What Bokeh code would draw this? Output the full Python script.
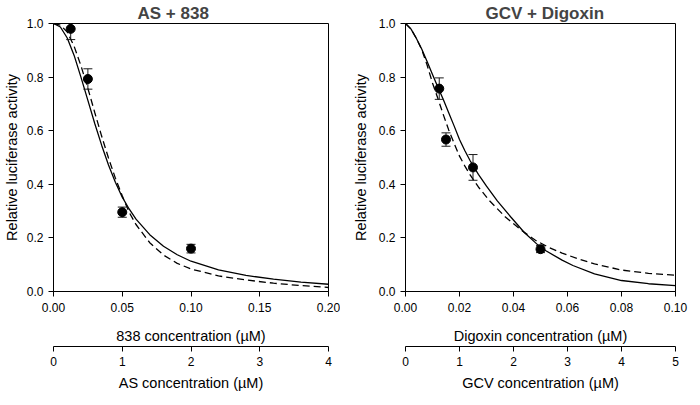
from bokeh.plotting import figure
from bokeh.models import Range1d, LinearAxis, FixedTicker, NumeralTickFormatter
from bokeh.layouts import row
from bokeh.embed import file_html
from bokeh.resources import INLINE

FONT = "Liberation Sans"

# ---------------- Panel A: AS + 838 ----------------
a_title = "AS + 838"
a_x_label = "838 concentration (µM)"
a_x2_label = "AS concentration (µM)"
a_x_ticks = [0.0, 0.05, 0.10, 0.15, 0.20]
a_x2_ticks = [0, 1, 2, 3, 4]
a_pts_x = [0.0125, 0.025, 0.05, 0.10]
a_pts_y = [0.980, 0.793, 0.296, 0.160]
a_pts_err = [0.040, 0.038, 0.019, 0.016]
a_solid_x = [0.000, 0.005, 0.010, 0.015, 0.020, 0.025, 0.030, 0.035, 0.040, 0.045, 0.050,
             0.055, 0.060, 0.070, 0.080, 0.090, 0.100, 0.120, 0.140, 0.160, 0.180, 0.200]
a_solid_y = [1.000, 0.987, 0.946, 0.881, 0.799, 0.713, 0.627, 0.546, 0.472, 0.408, 0.352,
             0.308, 0.270, 0.212, 0.169, 0.137, 0.113, 0.081, 0.060, 0.046, 0.035, 0.027]
a_dash_x = [0.000, 0.005, 0.010, 0.015, 0.020, 0.025, 0.030, 0.035, 0.040, 0.045, 0.050,
            0.055, 0.060, 0.070, 0.080, 0.090, 0.100, 0.120, 0.140, 0.160, 0.180, 0.200]
a_dash_y = [1.000, 0.994, 0.968, 0.915, 0.842, 0.758, 0.668, 0.580, 0.498, 0.423, 0.357,
            0.296, 0.250, 0.182, 0.136, 0.105, 0.084, 0.058, 0.043, 0.031, 0.022, 0.015]

# ---------------- Panel B: GCV + Digoxin ----------------
b_title = "GCV + Digoxin"
b_x_label = "Digoxin concentration (µM)"
b_x2_label = "GCV concentration (µM)"
b_x_ticks = [0.0, 0.02, 0.04, 0.06, 0.08, 0.10]
b_x2_ticks = [0, 1, 2, 3, 4, 5]
b_pts_x = [0.0125, 0.015, 0.025, 0.05]
b_pts_y = [0.757, 0.567, 0.463, 0.158]
b_pts_err = [0.040, 0.025, 0.048, 0.013]
b_solid_x = [0.000, 0.002, 0.004, 0.006, 0.008, 0.010, 0.012, 0.014, 0.016, 0.018, 0.020,
             0.022, 0.024, 0.027, 0.030, 0.034, 0.039, 0.044, 0.049, 0.052, 0.058, 0.062,
             0.070, 0.080, 0.090, 0.100]
b_solid_y = [1.000, 0.980, 0.945, 0.905, 0.858, 0.810, 0.762, 0.716, 0.667, 0.618, 0.567,
             0.525, 0.487, 0.437, 0.393, 0.338, 0.278, 0.220, 0.174, 0.152, 0.117, 0.097,
             0.066, 0.041, 0.029, 0.022]
b_dash_x = [0.000, 0.002, 0.004, 0.006, 0.008, 0.010, 0.012, 0.014, 0.016, 0.018, 0.020,
            0.022, 0.024, 0.027, 0.031, 0.037, 0.043, 0.048, 0.053, 0.058, 0.064, 0.070,
            0.080, 0.090, 0.100]
b_dash_y = [1.000, 0.980, 0.945, 0.903, 0.845, 0.778, 0.720, 0.660, 0.603, 0.553, 0.505,
            0.468, 0.434, 0.390, 0.340, 0.278, 0.228, 0.192, 0.165, 0.143, 0.122, 0.103,
            0.080, 0.068, 0.061]

y_ticks = [0.0, 0.2, 0.4, 0.6, 0.8, 1.0]
y_label = "Relative luciferase activity"


def style_axis(ax, fmt, ticks, label, label_standoff, tick_label_standoff):
    ax.ticker = FixedTicker(ticks=ticks)
    ax.formatter = NumeralTickFormatter(format=fmt)
    ax.axis_label = label
    ax.axis_label_text_font = FONT
    ax.axis_label_text_font_style = "normal"
    ax.axis_label_text_font_size = "14.5px"
    ax.axis_label_text_color = "black"
    ax.axis_label_standoff = label_standoff
    ax.major_label_text_font = FONT
    ax.major_label_text_font_size = "12px"
    ax.major_label_text_color = "black"
    ax.major_label_standoff = tick_label_standoff
    ax.axis_line_color = "black"
    ax.major_tick_line_color = "black"
    ax.major_tick_out = 5
    ax.major_tick_in = 0
    ax.minor_tick_line_color = None


def make_panel(title, xmax, x2max, x_ticks, x2_ticks, xfmt, xlabel, x2label,
               pts_x, pts_y, pts_err, sx, sy, dx, dy,
               left, right, fw, title_offset, ylab_standoff):
    p = figure(x_range=Range1d(0, xmax), y_range=Range1d(0, 1.0),
               frame_width=fw, frame_height=268,
               min_border_left=left, min_border_right=right,
               min_border_top=20, min_border_bottom=0,
               output_backend="svg", toolbar_location=None,
               background_fill_color="white", border_fill_color="white")
    p.title.text = title
    p.title.text_font = FONT
    p.title.text_font_style = "bold"
    p.title.text_font_size = "17px"
    p.title.align = "left"
    p.title.offset = title_offset
    p.title.standoff = 2
    p.xgrid.visible = False
    p.ygrid.visible = False
    p.outline_line_color = "black"
    p.outline_line_width = 1
    p.outline_line_alpha = 1.0

    style_axis(p.xaxis[0], xfmt, x_ticks, xlabel, 13, 6)
    style_axis(p.yaxis[0], "0.0", y_ticks, y_label, ylab_standoff, 5)

    p.extra_x_ranges = {"second": Range1d(0, x2max)}
    ax2 = LinearAxis(x_range_name="second")
    style_axis(ax2, "0", x2_ticks, x2label, 6, 5)
    p.add_layout(ax2, "below")

    p.line(sx, sy, line_color="black", line_width=1.3)
    p.line(dx, dy, line_color="black", line_width=1.3, line_dash="7 4")

    upper = [y + e for y, e in zip(pts_y, pts_err)]
    lower = [y - e for y, e in zip(pts_y, pts_err)]
    p.segment(x0=pts_x, y0=lower, x1=pts_x, y1=upper, line_color="#1a1a1a", line_width=1)
    p.scatter(pts_x, upper, marker="dash", size=9, line_color="#1a1a1a", line_width=1)
    p.scatter(pts_x, lower, marker="dash", size=9, line_color="#1a1a1a", line_width=1)
    p.scatter(pts_x, pts_y, marker="circle", size=9, fill_color="black", line_color="black")
    return p


p1 = make_panel(a_title, 0.2, 4, a_x_ticks, a_x2_ticks, "0.00", a_x_label, a_x2_label,
                a_pts_x, a_pts_y, a_pts_err, a_solid_x, a_solid_y, a_dash_x, a_dash_y,
                48, 12, 275, 84, 4)
p2 = make_panel(b_title, 0.1, 5, b_x_ticks, b_x2_ticks, "0.00", b_x_label, b_x2_label,
                b_pts_x, b_pts_y, b_pts_err, b_solid_x, b_solid_y, b_dash_x, b_dash_y,
                65, 14, 270, 80, 7)

layout = row(p1, p2)
open("out.html", "w").write(file_html(layout, INLINE))
